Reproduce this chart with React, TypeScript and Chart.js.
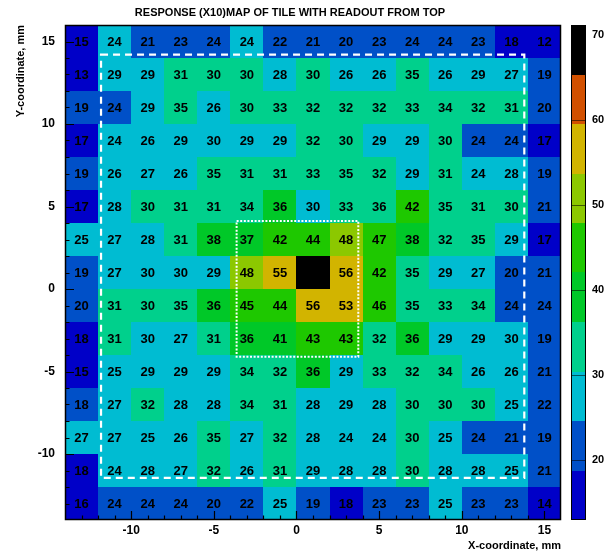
import { useEffect, useRef } from 'react';
import { Chart, registerables } from 'chart.js';

Chart.register(...registerables);

// ---- data (response x10); the printed numbers are truncated to integers ----
const xCenters = [-13, -11, -9, -7, -5, -3, -1, 1, 3, 5, 7, 9, 11, 13, 15];
const yCenters = [15, 13, 11, 9, 7, 5, 3, 1, -1, -3, -5, -7, -9, -11, -13];

const rowY15 = [15, 24.8, 21, 23, 24.3, 24.8, 22, 21, 20, 23, 24.3, 24.3, 23, 18.3, 12.95];
const rowY13 = [13, 29, 29, 31, 30.7, 30.7, 28, 30.7, 26, 26, 35, 26, 29, 27, 19];
const rowY11 = [19, 24.3, 29, 35, 26, 30.7, 33, 32, 32, 32, 33, 34, 32, 31, 20];
const rowY9 = [17, 24.8, 26, 29, 30.2, 29, 29, 32, 30.7, 29, 29, 30.7, 24.3, 24.3, 17];
const rowY7 = [19, 26, 27, 26, 35, 31, 31, 33, 35, 32, 29, 31, 24.8, 28, 19];
const rowY5 = [17, 28, 30.7, 31, 31, 34, 36.6, 30.2, 33, 36.1, 42.4, 35, 31, 30.7, 21];
const rowY3 = [25, 27, 28, 31, 38, 37, 42.4, 44, 48.3, 47, 38, 32, 35, 29, 17];
const rowY1 = [19, 27, 30.2, 30.2, 29, 48.3, 55, 71.2, 56, 42.4, 35, 29, 27, 20, 21];
const rowYm1 = [20, 31, 30.7, 35, 36.6, 45, 44, 56, 53.8, 46, 35, 33, 34, 24.3, 24.3];
const rowYm3 = [18.3, 31, 30.2, 27, 31, 36.6, 41, 43, 43, 32, 36.6, 29, 29, 30.2, 19];
const rowYm5 = [15, 25, 29, 29, 29, 34, 32, 36.6, 29, 33, 32, 34, 26, 26, 21];
const rowYm7 = [18.9, 27, 32, 28, 28, 34, 31, 28, 29, 28, 30.7, 30.7, 30.7, 25, 22];
const rowYm9 = [27, 27, 25, 26, 35, 27, 32, 28, 24.8, 24.8, 30.7, 25, 24.3, 21, 19];
const rowYm11 = [18.3, 24.8, 28, 27, 32, 26, 31, 29, 28, 28, 30.7, 28, 28, 25, 21];
const rowYm13 = [16, 24.3, 24.3, 24.3, 20, 22, 25, 19, 18.3, 23, 23, 25, 23, 23, 14];

const rows = [rowY15, rowY13, rowY11, rowY9, rowY7, rowY5, rowY3, rowY1, rowYm1, rowYm3, rowYm5, rowYm7, rowYm9, rowYm11, rowYm13];

const xTickValues = [-10, -5, 0, 5, 10, 15];
const yTickValues = [-10, -5, 0, 5, 10, 15];
const zTickValues = [20, 30, 40, 50, 60, 70];

// tile outline (dashed) and centre region (dotted): [xmin, xmax, ymin, ymax] in mm
const tileOutline = [-11.82, 13.78, -11.45, 14.2];
const centreOutline = [-3.62, 3.74, -4.1, 4.12];

const Z_MIN = 12.95;
const Z_MAX = 71.2;
const bandColors = ['#0000c8', '#0050c8', '#00bcd2', '#00d08c', '#00c828', '#1ec800', '#8cc800', '#d2b400', '#d25000', '#000000'];

const TITLE = 'RESPONSE (X10)MAP OF TILE WITH READOUT FROM TOP';
const FONT = '"Liberation Sans", Arial, Helvetica, sans-serif';

function colorFor(v: number) {
  const n = bandColors.length;
  let i = Math.floor(((v - Z_MIN) / (Z_MAX - Z_MIN)) * n);
  if (i < 0) i = 0;
  if (i > n - 1) i = n - 1;
  return bandColors[i];
}

const heatPlugin = {
  id: 'heatmap',
  afterDatasetsDraw(chart: any) {
    const { ctx, chartArea: a, scales } = chart;
    const xs = scales.x, ys = scales.y, zs = scales.z;
    const pts = chart.data.datasets[0].data as { x: number; y: number; v: number }[];
    ctx.save();
    // cells
    pts.forEach((p) => {
      const l = Math.round(xs.getPixelForValue(p.x - 1));
      const r = Math.round(xs.getPixelForValue(p.x + 1));
      const t = Math.round(ys.getPixelForValue(p.y + 1));
      const b = Math.round(ys.getPixelForValue(p.y - 1));
      ctx.fillStyle = colorFor(p.v);
      ctx.fillRect(l, t, r - l, b - t);
    });
    // cell text
    ctx.font = 'bold 13px ' + FONT;
    ctx.textAlign = 'center';
    ctx.textBaseline = 'middle';
    ctx.fillStyle = '#000';
    pts.forEach((p) => {
      ctx.fillText(String(Math.floor(p.v)), xs.getPixelForValue(p.x), ys.getPixelForValue(p.y) + 1);
    });
    // outlines
    const rect = (o: number[]) => {
      const l = xs.getPixelForValue(o[0]);
      const r = xs.getPixelForValue(o[1]);
      const b = ys.getPixelForValue(o[2]);
      const t = ys.getPixelForValue(o[3]);
      ctx.strokeRect(l, t, r - l, b - t);
    };
    ctx.strokeStyle = '#ffffff';
    ctx.lineWidth = 2.2;
    ctx.setLineDash([7, 5]);
    rect(tileOutline);
    ctx.lineWidth = 2;
    ctx.setLineDash([2, 1.6]);
    rect(centreOutline);
    ctx.setLineDash([]);
    // frame
    ctx.strokeStyle = '#000';
    ctx.lineWidth = 1.5;
    ctx.strokeRect(a.left + 0.5, a.top + 0.5, a.right - a.left - 1, a.bottom - a.top - 1);
    // inward ticks
    ctx.lineWidth = 1.2;
    ctx.beginPath();
    for (let v = Math.ceil(xs.min); v <= xs.max; v++) {
      if (v <= xs.min || v >= xs.max) continue;
      const len = v % 5 === 0 ? 9 : 4.5;
      const px = Math.round(xs.getPixelForValue(v)) + 0.5;
      ctx.moveTo(px, a.bottom);
      ctx.lineTo(px, a.bottom - len);
    }
    for (let v = Math.ceil(ys.min); v <= ys.max; v++) {
      if (v <= ys.min || v >= ys.max) continue;
      const len = v % 5 === 0 ? 9 : 4.5;
      const py = Math.round(ys.getPixelForValue(v)) + 0.5;
      ctx.moveTo(a.left, py);
      ctx.lineTo(a.left + len, py);
    }
    ctx.stroke();
    // colour bar
    const cbL = a.right + 10;
    const cbR = a.right + 25;
    const step = (Z_MAX - Z_MIN) / bandColors.length;
    bandColors.forEach((c, i) => {
      const v0 = Z_MIN + i * step;
      const v1 = v0 + step;
      const t = Math.round(zs.getPixelForValue(v1));
      const b = Math.round(zs.getPixelForValue(v0));
      ctx.fillStyle = c;
      ctx.fillRect(cbL, t, cbR - cbL, b - t);
    });
    ctx.strokeStyle = 'rgba(0,0,0,0.55)';
    ctx.lineWidth = 1;
    ctx.beginPath();
    zTickValues.forEach((v) => {
      const py = Math.round(zs.getPixelForValue(v)) + 0.5;
      ctx.moveTo(cbL, py);
      ctx.lineTo(cbR, py);
    });
    ctx.stroke();
    ctx.strokeStyle = '#000';
    ctx.lineWidth = 1;
    ctx.strokeRect(cbL + 0.5, a.top + 0.5, cbR - cbL - 1, a.bottom - a.top - 1);
    // title
    ctx.font = 'bold 11px ' + FONT;
    ctx.fillStyle = '#000';
    ctx.textAlign = 'center';
    ctx.textBaseline = 'middle';
    ctx.fillText(TITLE, 290, 13);
    ctx.restore();
  },
};

const noPad = (s: any) => {
  s.paddingTop = 0;
  s.paddingBottom = 0;
  s.paddingLeft = 0;
  s.paddingRight = 0;
};

export default function App() {
  const ref = useRef<HTMLCanvasElement | null>(null);
  useEffect(() => {
    if (!ref.current) return;
    const cells: { x: number; y: number; v: number }[] = [];
    rows.forEach((row, ri) => {
      row.forEach((v, ci) => cells.push({ x: xCenters[ci], y: yCenters[ri], v }));
    });
    const tickFont = { family: FONT, size: 12, weight: 'bold' as const };
    const titleFont = { family: FONT, size: 11, weight: 'bold' as const };
    const chart = new Chart(ref.current, {
      type: 'scatter',
      data: {
        datasets: [
          {
            data: cells as any,
            pointRadius: 0,
            pointHoverRadius: 0,
            xAxisID: 'x',
            yAxisID: 'y',
          },
        ],
      },
      options: {
        animation: false,
        responsive: false,
        devicePixelRatio: 1,
        events: [],
        layout: { padding: { top: 25, right: 0, bottom: 0, left: 0 } },
        plugins: { legend: { display: false }, tooltip: { enabled: false }, title: { display: false } },
        scales: {
          x: {
            type: 'linear',
            position: 'bottom',
            min: -14,
            max: 16,
            grid: { display: false, drawTicks: false },
            border: { display: false },
            ticks: { font: tickFont, color: '#000', padding: 3 },
            afterBuildTicks: (s: any) => {
              s.ticks = xTickValues.map((v) => ({ value: v }));
            },
            afterFit: (s: any) => {
              s.height = 34;
              noPad(s);
            },
            title: {
              display: true,
              text: 'X-coordinate, mm',
              align: 'end',
              color: '#000',
              font: titleFont,
              padding: { top: 0, bottom: 1 },
            },
          },
          y: {
            type: 'linear',
            position: 'left',
            min: -14,
            max: 16,
            grid: { display: false, drawTicks: false },
            border: { display: false },
            ticks: { font: tickFont, color: '#000', padding: 10 },
            afterBuildTicks: (s: any) => {
              s.ticks = yTickValues.map((v) => ({ value: v }));
            },
            afterFit: (s: any) => {
              s.width = 65;
              noPad(s);
            },
            title: {
              display: true,
              text: 'Y-coordinate, mm',
              align: 'end',
              color: '#000',
              font: titleFont,
              padding: { top: 14, bottom: 0 },
            },
          },
          z: {
            type: 'linear',
            position: 'right',
            min: Z_MIN,
            max: Z_MAX,
            grid: { display: false, drawTicks: false },
            border: { display: false },
            ticks: { font: { family: FONT, size: 11, weight: 'bold' }, color: '#000', padding: 31 },
            afterBuildTicks: (s: any) => {
              s.ticks = zTickValues.map((v) => ({ value: v }));
            },
            afterFit: (s: any) => {
              s.width = 47;
              noPad(s);
            },
          },
        },
      } as any,
      plugins: [heatPlugin],
    });
    return () => chart.destroy();
  }, []);
  return (
    <div style={{ position: 'absolute', left: 0, top: 0, width: 608, height: 554, background: '#fff' }}>
      <canvas ref={ref} width={608} height={554} />
    </div>
  );
}
